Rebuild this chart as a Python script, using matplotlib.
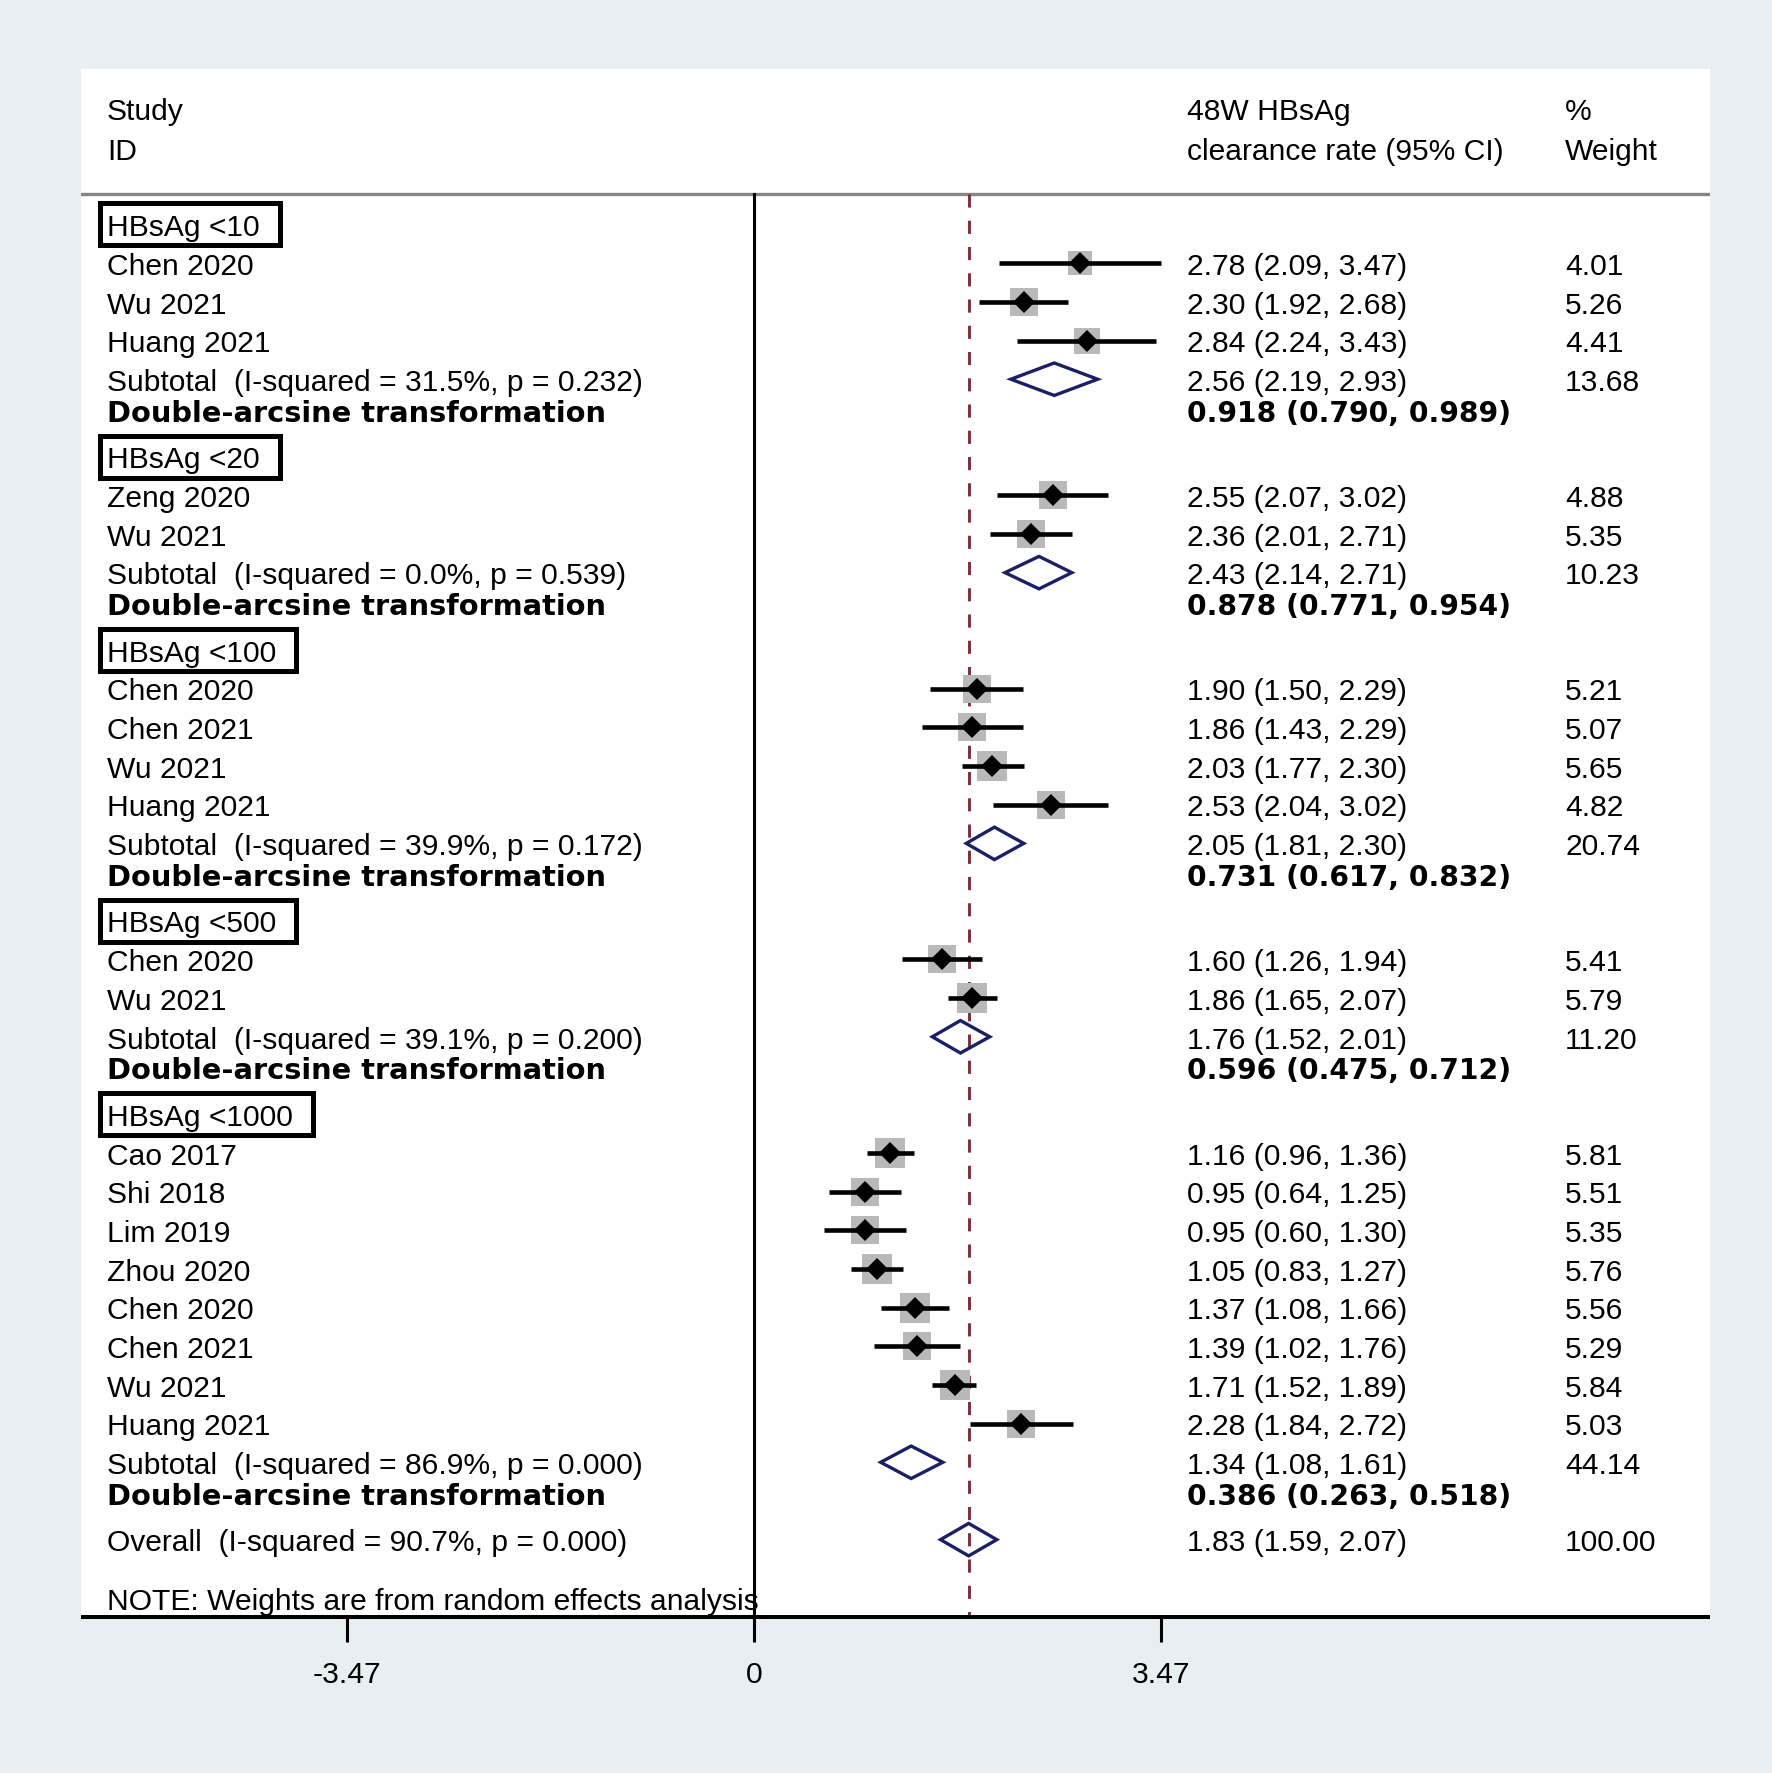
import matplotlib
matplotlib.use("Agg")
import matplotlib.pyplot as plt
from matplotlib.patches import Polygon, Rectangle


# subgroup labels
group_labels = ["HBsAg <10", "HBsAg <20", "HBsAg <100", "HBsAg <500", "HBsAg <1000"]

# individual studies (group index, name, estimate, lower, upper, weight)
study_group = [0, 0, 0,
               1, 1,
               2, 2, 2, 2,
               3, 3,
               4, 4, 4, 4, 4, 4, 4, 4]
study_names = ["Chen 2020", "Wu 2021", "Huang 2021",
               "Zeng 2020", "Wu 2021",
               "Chen 2020", "Chen 2021", "Wu 2021", "Huang 2021",
               "Chen 2020", "Wu 2021",
               "Cao 2017", "Shi 2018", "Lim 2019", "Zhou 2020",
               "Chen 2020", "Chen 2021", "Wu 2021", "Huang 2021"]
study_est = [2.78, 2.30, 2.84,
             2.55, 2.36,
             1.90, 1.86, 2.03, 2.53,
             1.60, 1.86,
             1.16, 0.95, 0.95, 1.05, 1.37, 1.39, 1.71, 2.28]
study_lo = [2.09, 1.92, 2.24,
            2.07, 2.01,
            1.50, 1.43, 1.77, 2.04,
            1.26, 1.65,
            0.96, 0.64, 0.60, 0.83, 1.08, 1.02, 1.52, 1.84]
study_hi = [3.47, 2.68, 3.43,
            3.02, 2.71,
            2.29, 2.29, 2.30, 3.02,
            1.94, 2.07,
            1.36, 1.25, 1.30, 1.27, 1.66, 1.76, 1.89, 2.72]
study_wt = [4.01, 5.26, 4.41,
            4.88, 5.35,
            5.21, 5.07, 5.65, 4.82,
            5.41, 5.79,
            5.81, 5.51, 5.35, 5.76, 5.56, 5.29, 5.84, 5.03]

# subgroup pooled results
sub_i2 = [31.5, 0.0, 39.9, 39.1, 86.9]
sub_p = [0.232, 0.539, 0.172, 0.200, 0.000]
sub_est = [2.56, 2.43, 2.05, 1.76, 1.34]
sub_lo = [2.19, 2.14, 1.81, 1.52, 1.08]
sub_hi = [2.93, 2.71, 2.30, 2.01, 1.61]
sub_wt = [13.68, 10.23, 20.74, 11.20, 44.14]

# back-transformed (double-arcsine) proportions
prop_est = [0.918, 0.878, 0.731, 0.596, 0.386]
prop_lo = [0.790, 0.771, 0.617, 0.475, 0.263]
prop_hi = [0.989, 0.954, 0.832, 0.712, 0.518]

# overall
overall_i2 = 90.7
overall_p = 0.000
overall_est = 1.83
overall_lo = 1.59
overall_hi = 2.07
overall_wt = 100.00

x_ticks = [-3.47, 0, 3.47]
x_ticklabels = ["-3.47", "0", "3.47"]


BG = "#e8eff2"
NAVY = "#1b1f66"
DASH = "#7b2d3b"
NORMAL = dict(family=["Liberation Sans", "DejaVu Sans"], fontsize=21.6)
BOLD = dict(family=["DejaVu Sans"], fontsize=20.8, fontweight="bold")
BOLD_NUM = dict(family=["DejaVu Sans"], fontsize=20.3, fontweight="bold")

PX_PER_UNIT = 407 / 3.47
X_NAME = (107 - 754) / PX_PER_UNIT
X_EST = (1187 - 754) / PX_PER_UNIT
X_WT = (1565 - 754) / PX_PER_UNIT
BASE = 0.277  # baseline offset so that cap height is centred on the row


def put(ax, x, y, s, style=NORMAL):
    return ax.text(x, y + BASE, s, ha="left", va="baseline", color="black", **style)


def diamond(ax, est, lo, hi, y):
    h = 0.42
    pts = [(lo, y), (est, y - h), (hi, y), (est, y + h)]
    ax.add_patch(Polygon(pts, closed=True, fill=False, edgecolor=NAVY,
                         linewidth=2.4, joinstyle="miter", zorder=4))


def main():
    fig = plt.figure(figsize=(17.72, 17.74), dpi=100, facecolor=BG)
    ax = fig.add_axes([81 / 1772, 156 / 1774, (1710 - 81) / 1772, (1618 - 70) / 1774])
    ax.set_facecolor("white")
    ax.set_xlim(-(754 - 81) / PX_PER_UNIT, (1710 - 754) / PX_PER_UNIT)
    ax.set_ylim(36.0, -4.02)

    for side in ["top", "left", "right"]:
        ax.spines[side].set_visible(False)
    ax.spines["bottom"].set_linewidth(2.9)
    ax.spines["bottom"].set_capstyle("butt")
    ax.set_yticks([])
    ax.set_xticks(x_ticks)
    ax.set_xticklabels(x_ticklabels, family=NORMAL["family"], fontsize=21.6)
    ax.tick_params(axis="x", length=18, width=2.2, pad=13, color="black")

    # header
    put(ax, X_NAME, -3.0, "Study")
    put(ax, X_NAME, -1.97, "ID")
    put(ax, X_EST, -3.0, "48W HBsAg")
    put(ax, X_EST, -1.97, "clearance rate (95% CI)")
    put(ax, X_WT, -3.0, "%")
    put(ax, X_WT, -1.97, "Weight")
    ax.axhline(-0.79, color="#858585", linewidth=2.4)

    # null line and overall line
    ax.plot([0, 0], [-0.79, 36.0], color="black", linewidth=2.2, zorder=2)
    ax.plot([overall_est, overall_est], [-0.79, 36.0], color=DASH, linewidth=2.1,
            dashes=(4.5, 4.5), zorder=2)

    fig.canvas.draw()
    renderer = fig.canvas.get_renderer()
    inv = ax.transData.inverted()

    row = 0
    for g, label in enumerate(group_labels):
        t = put(ax, X_NAME, row, label)
        bb = t.get_window_extent(renderer)
        x0 = X_NAME - 7.5 / PX_PER_UNIT
        x1 = inv.transform((bb.x1 + 20, 0))[0]
        ax.add_patch(Rectangle((x0, row - 0.543), x1 - x0, 1.086, fill=False,
                               edgecolor="black", linewidth=3.6, joinstyle="miter"))
        row += 1
        for i in range(len(study_names)):
            if study_group[i] != g:
                continue
            put(ax, X_NAME, row, study_names[i])
            put(ax, X_EST, row, f"{study_est[i]:.2f} ({study_lo[i]:.2f}, {study_hi[i]:.2f})")
            put(ax, X_WT, row, f"{study_wt[i]:.2f}")
            side = 8.86 * study_wt[i] ** 0.5
            ax.plot(study_est[i], row, marker="s", markersize=side, color="#b9b9b9",
                    markeredgewidth=0, zorder=3)
            ax.plot([study_lo[i], study_hi[i]], [row, row], color="black",
                    linewidth=3.3, solid_capstyle="butt", zorder=4)
            ax.plot(study_est[i], row, marker="D", markersize=11, color="black",
                    markeredgewidth=0, zorder=5)
            row += 1
        put(ax, X_NAME, row, f"Subtotal  (I-squared = {sub_i2[g]:.1f}%, p = {sub_p[g]:.3f})")
        put(ax, X_EST, row, f"{sub_est[g]:.2f} ({sub_lo[g]:.2f}, {sub_hi[g]:.2f})")
        put(ax, X_WT, row, f"{sub_wt[g]:.2f}")
        diamond(ax, sub_est[g], sub_lo[g], sub_hi[g], row)
        put(ax, X_NAME, row + 0.8, "Double-arcsine transformation", BOLD)
        put(ax, X_EST, row + 0.8, f"{prop_est[g]:.3f} ({prop_lo[g]:.3f}, {prop_hi[g]:.3f})", BOLD_NUM)
        row += 2

    put(ax, X_NAME, row, f"Overall  (I-squared = {overall_i2:.1f}%, p = {overall_p:.3f})")
    put(ax, X_EST, row, f"{overall_est:.2f} ({overall_lo:.2f}, {overall_hi:.2f})")
    put(ax, X_WT, row, f"{overall_wt:.2f}")
    diamond(ax, overall_est, overall_lo, overall_hi, row)

    put(ax, X_NAME, row + 1.51, "NOTE: Weights are from random effects analysis")

    fig.savefig("out.png", dpi=100, facecolor=fig.get_facecolor())
    plt.close(fig)


if __name__ == "__main__":
    main()
